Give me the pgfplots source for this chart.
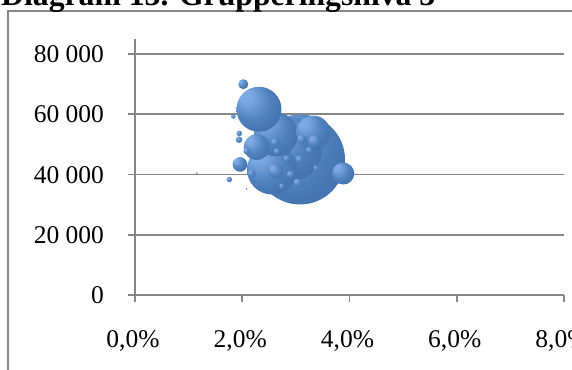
\documentclass[border=0pt]{standalone}
\usepackage{pgfplots}
\pgfplotsset{compat=1.18}
\usepackage{fontspec}
\setmainfont{Liberation Serif}
\definecolor{bubhi}{RGB}{125,170,228}
\definecolor{bubmid}{RGB}{79,129,189}
\definecolor{bubdk}{RGB}{58,102,160}
\definecolor{bubedge}{RGB}{42,76,124}
\definecolor{axgray}{RGB}{134,134,134}
\pgfdeclareradialshading{bubshade}{\pgfpoint{-17bp}{17bp}}{color(0bp)=(bubhi); color(6bp)=(bubhi); color(22bp)=(bubmid); color(42bp)=(bubdk); color(50bp)=(bubedge)}
\pgfdeclareplotmark{bubble}{\pgfpathcircle{\pgfpointorigin}{\pgfplotmarksize}\pgfshadepath{bubshade}{0}\pgfusepath{}}
\begin{document}
\begin{tikzpicture}
\useasboundingbox (0,0) rectangle (572pt,369pt);
\draw[axgray, line width=2pt] (8pt,-20pt) -- (8pt,358pt) -- (600pt,358pt);
\node[anchor=base west, inner sep=0pt, font=\bfseries\fontsize{31.7}{36}\selectfont] at (1pt,363.5pt) {Diagram 13. Grupperingsnivå 3};
\begin{axis}[
  at={(135pt,74pt)}, anchor=south west,
  scale only axis, width=429pt, height=256pt,
  xmin=0, xmax=8, ymin=0, ymax=85000,
  scaled x ticks=false, scaled y ticks=false,
  axis lines=left, axis line style={-, axgray, line width=1.6pt},
  tick align=outside, major tick length=7pt,
  tick style={axgray, line width=1.6pt},
  xtick={0,2,4,6,8}, xticklabels={{0,0\%},{2,0\%},{4,0\%},{6,0\%},{8,0\%}},
  ytick={0,20000,40000,60000,80000}, yticklabels={0,20 000,40 000,60 000,80 000},
  ymajorgrids, grid style={axgray, line width=1.6pt},
  tick label style={font=\fontsize{25.5}{30}\selectfont, inner sep=0pt, outer sep=0pt},
  xticklabel style={anchor=base, yshift=-45pt, xshift=-2pt},
  yticklabel style={anchor=base east, xshift=-24pt, yshift=-8.5pt},
  clip=false,
]
\addplot[scatter, only marks, mark=bubble, point meta=explicit,
  visualization depends on={\thisrow{r} \as \rad},
  scatter/@pre marker code/.append style={/tikz/mark size=\rad}]
  table[meta=r] {
x y r
3.077 45000 45
2.890 48333 32
2.555 41667 25
2.629 53333 22
2.312 61667 22.5
3.325 53900 17
2.269 49100 13
3.884 40333 11
1.958 43333 7.3
2.629 41000 7.3
3.357 50900 6.7
2.020 70000 5
3.109 51667 4.7
3.034 37233 4.3
2.176 40333 4
2.611 50667 4
3.068 45067 4
2.903 40000 4
2.083 47767 3.3
1.939 51567 3.3
2.648 47667 3.3
2.829 45233 3.3
3.250 48100 3.3
1.945 53667 2.8
1.759 38333 2.7
3.375 42233 2.7
2.736 36100 2.7
1.833 59233 2.2
1.151 40333 1.1
2.079 35167 0.9
};
\end{axis}
\end{tikzpicture}
\end{document}
